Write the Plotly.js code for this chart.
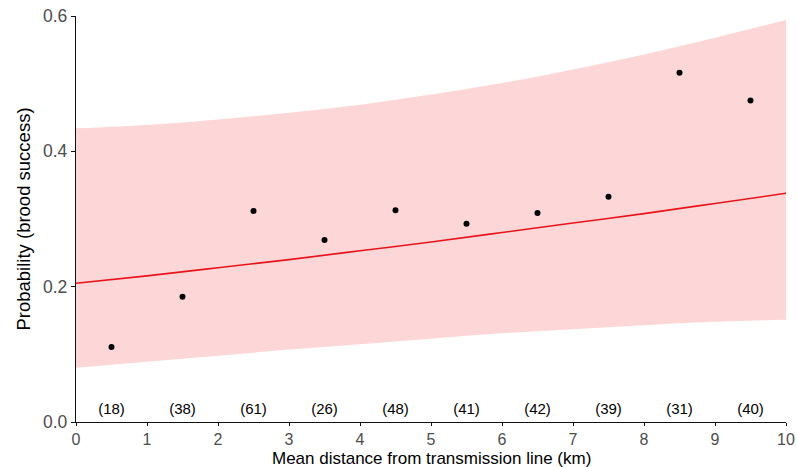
<!DOCTYPE html>
<html>
<head>
<meta charset="utf-8">
<script src="https://cdn.plot.ly/plotly-3.0.1.min.js"></script>
<style>html,body{margin:0;padding:0;background:#fff;}#chart{width:797px;height:467px;}</style>
</head>
<body>
<div id="chart"></div>
<script>
// Fitted curve and 95% band, read at each km
const fitX = [0, 1, 2, 3, 4, 5, 6, 7, 8, 9, 10];
const fitY = [0.205, 0.216, 0.228, 0.240, 0.253, 0.266, 0.280, 0.294, 0.308, 0.323, 0.338];
const lowerY = [0.080, 0.089, 0.098, 0.107, 0.115, 0.123, 0.131, 0.137, 0.143, 0.148, 0.151];
const upperY = [0.434, 0.439, 0.447, 0.457, 0.469, 0.484, 0.501, 0.521, 0.543, 0.568, 0.594];

// Observed proportions per 1-km bin
const binX = [0.5, 1.5, 2.5, 3.5, 4.5, 5.5, 6.5, 7.5, 8.5, 9.5];
const binY = [0.111, 0.185, 0.312, 0.269, 0.313, 0.293, 0.309, 0.333, 0.516, 0.475];
const binN = ["(18)", "(38)", "(61)", "(26)", "(48)", "(41)", "(42)", "(39)", "(31)", "(40)"];
const labelY = binX.map(() => 0.018);

const xTitle = 'Mean distance from transmission line (km)';
const yTitle = 'Probability (brood success)';

const data = [
  {x: fitX, y: lowerY, mode: 'lines', line: {width: 0, color: 'rgba(0,0,0,0)', shape: 'spline'}, hoverinfo: 'skip', showlegend: false},
  {x: fitX, y: upperY, mode: 'lines', fill: 'tonexty', fillcolor: '#fdd7d7', line: {width: 0, color: 'rgba(0,0,0,0)', shape: 'spline'}, hoverinfo: 'skip', showlegend: false},
  {x: fitX, y: fitY, mode: 'lines', line: {color: '#e8141b', width: 1.6, shape: 'spline'}, showlegend: false},
  {x: binX, y: binY, mode: 'markers', marker: {color: '#000', size: 6}, showlegend: false},
  {x: binX, y: labelY, mode: 'text', text: binN, textfont: {family: 'Liberation Sans, Arial, sans-serif', size: 15, color: '#000'}, showlegend: false, hoverinfo: 'skip'}
];

const layout = {
  width: 797, height: 467,
  margin: {l: 76, r: 11, t: 16, b: 45},
  paper_bgcolor: '#fff', plot_bgcolor: '#fff',
  font: {family: 'Liberation Sans, Arial, sans-serif'},
  xaxis: {
    range: [0, 10], dtick: 1, tick0: 0, showgrid: false, zeroline: false,
    showline: true, linecolor: '#111', linewidth: 1.2,
    ticks: 'outside', ticklen: 3, tickcolor: '#111', tickwidth: 1,
    tickfont: {size: 16, color: '#4d4d4d'}
  },
  yaxis: {
    range: [0, 0.6], dtick: 0.2, tick0: 0, tickformat: '.1f', showgrid: false, zeroline: false,
    showline: true, linecolor: '#111', linewidth: 1.2,
    ticks: 'outside', ticklen: 4, tickcolor: '#111', tickwidth: 1,
    tickfont: {size: 17.5, color: '#4d4d4d'},
    title: {text: yTitle, font: {size: 18.5, color: '#000'}, standoff: 7}
  },
  annotations: [
    {text: xTitle, xref: 'paper', yref: 'paper', x: 0.5, y: 0, xanchor: 'center', yanchor: 'bottom',
     yshift: -47, borderpad: 0, showarrow: false, font: {size: 17, color: '#000'}}
  ]
};

Plotly.newPlot('chart', data, layout, {displayModeBar: false, staticPlot: true});
</script>
</body>
</html>
